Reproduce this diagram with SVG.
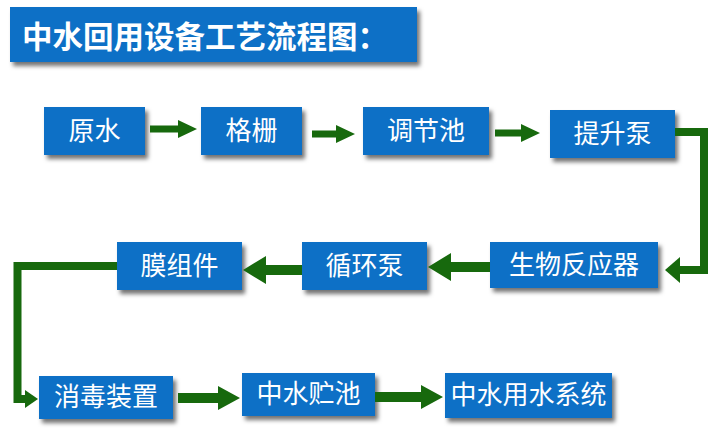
<svg xmlns="http://www.w3.org/2000/svg" width="720" height="436" viewBox="0 0 720 436">
<defs>
<filter id="sh" x="-10%" y="-20%" width="125%" height="150%">
<feDropShadow dx="3" dy="4" stdDeviation="2" flood-color="#000" flood-opacity="0.55"/>
</filter>
<style>
.box{fill:#0f6fc6;filter:url(#sh);}
.t{fill:#fff;font-family:"Noto Sans CJK SC","Noto Sans",sans-serif;font-size:26px;text-anchor:middle;}
.title{fill:#fff;font-family:"Noto Sans CJK SC","Noto Sans",sans-serif;font-size:30.5px;font-weight:bold;}
.g{fill:#17690d;}
.line{fill:none;stroke:#17690d;stroke-width:8;}
</style>
</defs>
<rect width="720" height="436" fill="#fff"/>
<g id="title">
<rect class="box" x="10" y="7" width="407" height="55"/>
<text class="title" x="22" y="48">中水回用设备工艺流程图：</text>
</g>
<g id="n1"><rect class="box" x="44" y="107" width="101" height="48"/><text class="t" x="94.5" y="140">原水</text></g>
<g id="n2"><rect class="box" x="201" y="107" width="101" height="48"/><text class="t" x="251.5" y="140">格栅</text></g>
<g id="n3"><rect class="box" x="363" y="107" width="126" height="48"/><text class="t" x="426" y="140">调节池</text></g>
<g id="n4"><rect class="box" x="550" y="110" width="125" height="48"/><text class="t" x="612.5" y="143">提升泵</text></g>
<g id="n5"><rect class="box" x="490" y="242" width="168" height="46"/><text class="t" x="574" y="274">生物反应器</text></g>
<g id="n6"><rect class="box" x="302" y="242" width="125" height="48"/><text class="t" x="364.5" y="275">循环泵</text></g>
<g id="n7"><rect class="box" x="117" y="242" width="125" height="48"/><text class="t" x="179.5" y="275">膜组件</text></g>
<g id="n8"><rect class="box" x="39" y="376" width="134" height="43"/><text class="t" x="106" y="406">消毒装置</text></g>
<g id="n9"><rect class="box" x="242" y="373" width="133" height="43"/><text class="t" x="308.5" y="403">中水贮池</text></g>
<g id="n10"><rect class="box" x="445" y="373" width="167" height="45"/><text class="t" x="528.5" y="404">中水用水系统</text></g>
<g id="connectors">
<path class="g" d="M150,125.5 H178 V120 L197,129 L178,138 V132.5 H150 Z"/>
<path class="g" d="M312,130.5 H336 V125 L355,134 L336,143 V137.5 H312 Z"/>
<path class="g" d="M495,129.5 H521 V124 L540,133 L521,142 V136.5 H495 Z"/>
<path class="line" d="M675,132 H704 V270 H678"/>
<path class="g" d="M680,257 L665,270 L680,283 Z"/>
<path class="g" d="M490,262 H451 V253 L428,267 L451,281 V272 H490 Z"/>
<path class="g" d="M302,265 H266 V256 L243,270 L266,284 V275 H302 Z"/>
<path class="line" d="M117,266 H17.5 V399 H26"/>
<path class="g" d="M25,390 L38,399 L25,408 Z"/>
<path class="g" d="M178,393 H218 V386 L240,398 L218,410 V403 H178 Z"/>
<path class="g" d="M375,392 H421 V385 L443,397 L421,409 V402 H375 Z"/>
</g>
</svg>
